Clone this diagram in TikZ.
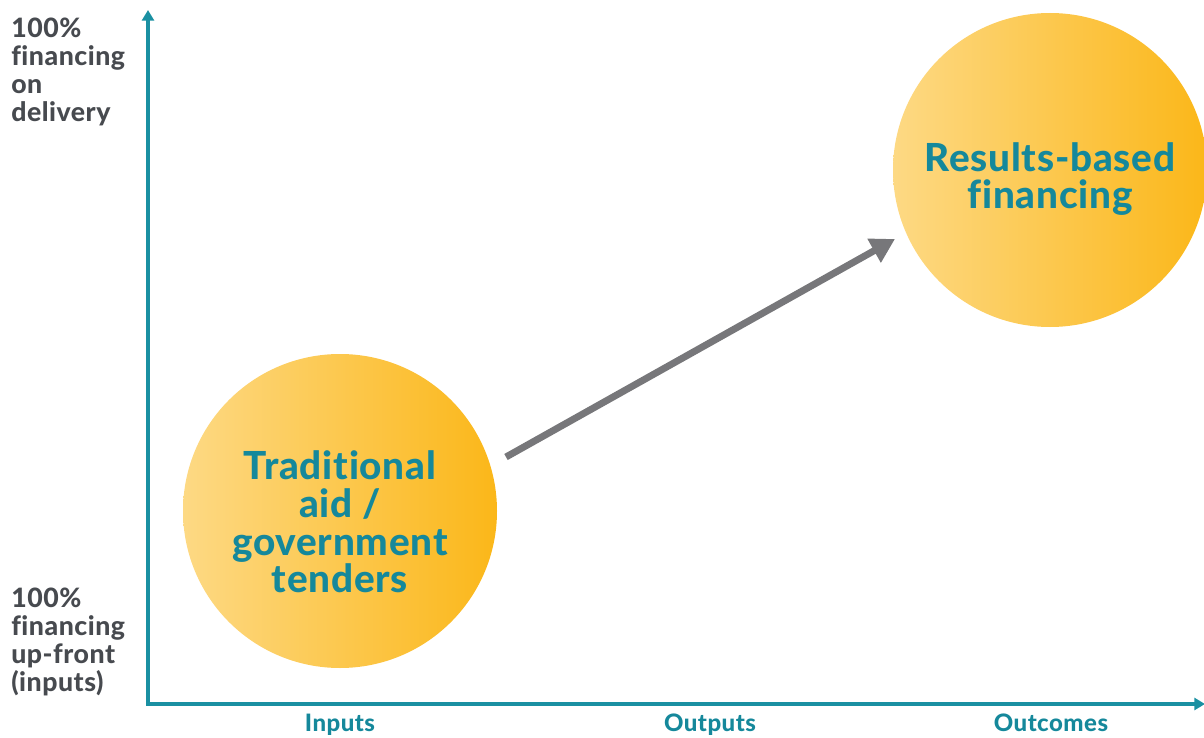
\documentclass[tikz,border=0pt]{standalone}
\usepackage{fontspec}
\setmainfont{Lato}[Ligatures=NoCommon, BoldFont={Lato Heavy}, BoldFeatures={LetterSpace=2}]
\usetikzlibrary{arrows.meta}
\definecolor{teal1}{HTML}{1A90A2}
\definecolor{tealtext}{HTML}{15889B}
\definecolor{darkgray1}{HTML}{474A4F}
\definecolor{arrowgray}{HTML}{77777A}
\definecolor{gold1}{HTML}{FDD984}
\definecolor{gold2}{HTML}{FBB719}
\tikzset{
  axis/.style={draw=teal1, line width=2.4pt, {Triangle[length=8pt,width=9pt]}-{Triangle[length=8pt,width=9pt]}},
  bubble/.style={circle, minimum size=235.5pt, inner sep=0pt, left color=gold1, right color=gold2, draw=none},
  bubbletext/.style={text=tealtext, font=\fontsize{29}{28.3}\selectfont\bfseries, align=center},
  sidelabel/.style={text=darkgray1, font=\fontsize{20}{21}\selectfont\bfseries, align=left, anchor=west, inner sep=0pt},
  xlabel/.style={text=tealtext, font=\fontsize{18}{20}\selectfont\bfseries, inner sep=0pt, anchor=base},
  bigarrow/.style={draw=arrowgray, line width=5.2pt, -{Triangle[length=18pt,width=19.5pt]}}
}
\begin{document}
\begin{tikzpicture}[x=0.75pt,y=-0.75pt]
\useasboundingbox (0,0) rectangle (1204,738);
% circles
\node[bubble] (c1) at (340,511) {};
\node[bubbletext] (t1) at (340,522) {Traditional\\aid /\\government\\tenders};
\node[bubble] (c2) at (1050,170) {};
\node[bubbletext] (t2) at (1050,179) {Results-based\\financing};
% axes
\coordinate (ytip) at (148,10);
\coordinate (origin) at (148,704);
\coordinate (xtip) at (1205,704);
\draw[axis] (ytip) -- (origin) -- (xtip);
% arrow
\coordinate (a1) at (506,457);
\coordinate (a2) at (895,239);
\draw[bigarrow] (a1) -- (a2);
% side labels
\node[sidelabel] (top) at (11,72) {100\%\\financing\\on\\delivery};
\node[sidelabel] (bot) at (11,642) {100\%\\financing\\up-front\\(inputs)};
% x labels
\node[xlabel] (xi) at (340,731) {Inputs};
\node[xlabel] (xo) at (710,731) {Outputs};
\node[xlabel] (xc) at (1051,731) {Outcomes};
\end{tikzpicture}
\end{document}
